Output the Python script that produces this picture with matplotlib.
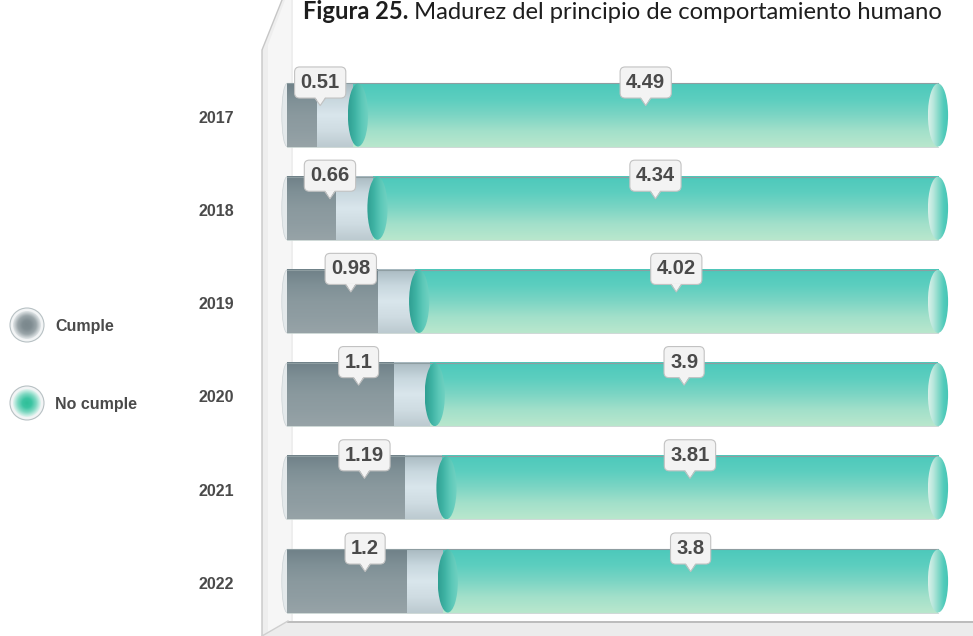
import numpy as np
import matplotlib
matplotlib.use('Agg')
import matplotlib.pyplot as plt
from matplotlib.patches import Ellipse, Polygon, Circle
from matplotlib.colors import to_rgb

# ---------------- data ----------------
years = ['2017', '2018', '2019', '2020', '2021', '2022']
cumple = [0.51, 0.66, 0.98, 1.1, 1.19, 1.2]
no_cumple = [4.49, 4.34, 4.02, 3.9, 3.81, 3.8]
cumple_labels = ['0.51', '0.66', '0.98', '1.1', '1.19', '1.2']
no_cumple_labels = ['4.49', '4.34', '4.02', '3.9', '3.81', '3.8']
legend_labels = ['Cumple', 'No cumple']
title_bold = 'Figura 25.'
title_rest = ' Madurez del principio de comportamiento humano'

# ---------------- figure ----------------
W, H = 973, 636
fig = plt.figure(figsize=(W / 100, H / 100), dpi=100)
bg = fig.add_axes([0, 0, 1, 1])
bg.set_xlim(0, W); bg.set_ylim(H, 0); bg.axis('off')
bg.set_autoscale_on(False)

ax = fig.add_axes([0, 0, 1, 1])
ax.patch.set_alpha(0); ax.axis('off')
PX_X, PX_Y = 130.2, 93.2          # pixels per data unit
X0, Y0 = 287, 115                  # pixel of x=0 / first category
ax.set_xlim(-X0 / PX_X, (W - X0) / PX_X)
ax.set_ylim((H - Y0) / PX_Y, -Y0 / PX_Y)
ax.set_autoscale_on(False)

TXT = '#4a4a4a'


def stops(colors, n):
    cs = np.array([to_rgb(c) for c in colors])
    t = np.linspace(0, 1, len(cs))
    tt = np.linspace(0, 1, n)
    return np.stack([np.interp(tt, t, cs[:, k]) for k in range(3)], axis=1)


def vgrad(colors, n=80):
    return stops(colors, n)[:, None, :]


def hgrad(colors, n=80):
    return stops(colors, n)[None, :, :]


def grad_rect(x0, x1, yc, h, arr, z):
    ax.imshow(arr, extent=(x0, x1, yc + h / 2, yc - h / 2), aspect='auto',
              interpolation='bilinear', zorder=z)


def grad_ellipse(cx, yc, w, h, arr, z, ec='none', lw=0):
    e = Ellipse((cx, yc), w, h, fc='none', ec=ec, lw=lw, zorder=z + 0.1)
    ax.add_patch(e)
    im = ax.imshow(arr, extent=(cx - w / 2, cx + w / 2, yc + h / 2, yc - h / 2),
                   aspect='auto', interpolation='bilinear', zorder=z)
    im.set_clip_path(e)


# ---------------- wall & floor ----------------
bg.add_patch(Polygon([(262, H), (262, 50), (282, 0), (293, 0), (293, H)],
                     closed=True, fc='#eeeeee', ec='none', zorder=1))
bg.add_patch(Polygon([(268, H), (268, 45), (285, 0), (291, 0), (291, H)],
                     closed=True, fc='#f6f6f6', ec='none', zorder=1))
bg.plot([262, 262, 282], [H, 50, 0], color='#c6c6c6', lw=1, zorder=2)
bg.add_patch(Polygon([(262, H), (288, 621), (W, 621), (W, H)], closed=True,
                     fc='#ececec', ec='none', zorder=1))
bg.plot([288, W], [622, 622], color='#b4b4b4', lw=1.2, zorder=2)
bg.plot([262, 288], [H, 621], color='#cfcfcf', lw=1, zorder=2)

# ---------------- cylinders ----------------
h = 0.676
band = 0.28
cap_w = 0.155
teal_v = vgrad(['#4cc9bb', '#5ccebf', '#7cd5c4', '#a2e0ca', '#b9e7cd'])
grey_v = vgrad(['#6f8188', '#7f9096', '#8a999e', '#8f9da2', '#97a3a7'])
light_v = vgrad(['#a9bac1', '#c8d7de', '#d9e6ec', '#cfdce2', '#bccad0'])
junc_h = hgrad(['#2f9f92', '#3fb3a4', '#5cc8b8', '#72d2c2'])
cap_h = hgrad(['#d8f1ea', '#b8e7dc', '#86d9c9', '#52cbbb', '#45c5b5'])

sx = 1 / PX_X
sy = 1 / PX_Y

for i in range(len(years)):
    c = cumple[i]
    n = no_cumple[i]
    tot = c + n
    # left rounded end
    ax.add_patch(Ellipse((0.0, i), 0.08, h, fc='#e4e9eb', ec='#ccd3d6',
                         lw=0.5, zorder=2))
    # cumple body
    grad_rect(0, c - band, i, h, grey_v, 3)
    grad_rect(c - band, c, i, h, light_v, 3)
    # no cumple body
    grad_rect(c, tot, i, h, teal_v, 3)
    # edges
    ax.plot([0, tot], [i - h / 2, i - h / 2], color='#8e9da1', lw=0.8, zorder=4)
    ax.plot([0, tot], [i + h / 2, i + h / 2], color='#c6d2d0', lw=0.6, zorder=4)
    # junction and end caps
    grad_ellipse(c + 0.035, i, cap_w, h, junc_h, 5)
    grad_ellipse(tot, i, cap_w, h, cap_h, 5)

    # year label
    ax.text(-53 * sx, i + 0.035, years[i], ha='right', va='center',
            fontsize=11.5, fontweight='bold', color=TXT,
            family='Liberation Sans', zorder=6)

    # callouts
    for xc, lab in ((c / 2, cumple_labels[i]), (c + n / 2, no_cumple_labels[i])):
        yc = i - h / 2 - 1 * sy
        ax.text(xc, yc, lab, ha='center', va='center', fontsize=14.5,
                fontweight='bold', color=TXT, family='Liberation Sans',
                zorder=9,
                bbox=dict(boxstyle='round,pad=0.3,rounding_size=0.25',
                          fc='#f3f3f3', ec='#c2c2c2', lw=0.8))
        yb = yc + 16 * sy
        tri = [(xc - 5 * sx, yb - 1.5 * sy), (xc + 5 * sx, yb - 1.5 * sy),
               (xc, yb + 7 * sy)]
        ax.add_patch(Polygon(tri, closed=True, fc='#f3f3f3', ec='none',
                             zorder=10))
        ax.plot([xc - 5 * sx, xc, xc + 5 * sx], [yb, yb + 7 * sy, yb],
                color='#c2c2c2', lw=0.8, zorder=10)

# ---------------- legend ----------------
leg_colors = [['#7a878c', '#808d92', '#9aa5a9', '#dfe4e6'],
              ['#2fbf98', '#3cc4a2', '#7fd8c2', '#dff3ee']]
for k, (lab, cols) in enumerate(zip(legend_labels, leg_colors)):
    cx, cy = 27, 325 + k * 78
    outer = Circle((cx, cy), 17, fc='#f2f4f5', ec='#b8c1c4', lw=0.8, zorder=3)
    bg.add_patch(outer)
    r = 14
    yy, xx = np.mgrid[-1:1:60j, -1:1:60j]
    rr = np.clip(np.sqrt(xx ** 2 + yy ** 2), 0, 1)
    st = stops(cols, 100)
    idx = (rr * 99).astype(int)
    img = st[idx]
    circ = Circle((cx, cy), r, fc='none', ec='none', zorder=4.1)
    bg.add_patch(circ)
    im = bg.imshow(img, extent=(cx - r, cx + r, cy + r, cy - r),
                   interpolation='bilinear', zorder=4, aspect='auto')
    im.set_clip_path(circ)
    bg.text(55, cy + 2, lab, ha='left', va='center', fontsize=11.5,
            fontweight='bold', color=TXT, family='Liberation Sans', zorder=5)

# ---------------- title ----------------
renderer = fig.canvas.get_renderer()
fs = 16.0
base_y = 1 - 19 / H
t1 = fig.text(303 / W, base_y, title_bold, fontsize=fs, fontweight='bold',
              family='Lato', color='#1e1e1e', va='baseline', ha='left')
t2 = fig.text(0, base_y, title_rest, fontsize=fs, family='Lato',
              color='#1e1e1e', va='baseline', ha='left')
w1 = t1.get_window_extent(renderer).width
w2 = t2.get_window_extent(renderer).width
scale = 642 / (w1 + w2)
fs *= scale
t1.set_fontsize(fs); t2.set_fontsize(fs)
w1 = t1.get_window_extent(renderer).width
t2.set_x((303 + w1) / W)

fig.savefig('out.png', dpi=100)
